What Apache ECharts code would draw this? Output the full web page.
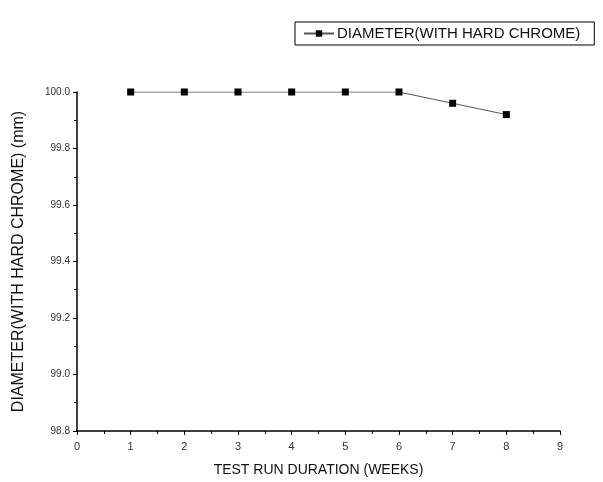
<!DOCTYPE html>
<html>
<head>
<meta charset="utf-8">
<script src="https://cdn.jsdelivr.net/npm/echarts@6/dist/echarts.min.js"></script>
<style>
  html, body { margin: 0; padding: 0; background: #fff; }
  #chart { width: 603px; height: 482px; }
</style>
</head>
<body>
<div id="chart"></div>
<script>
// 数据
const weeks = [1, 2, 3, 4, 5, 6, 7, 8]
const diameter = [100.0, 100.0, 100.0, 100.0, 100.0, 100.0, 99.96, 99.92]
const seriesName = 'DIAMETER(WITH HARD CHROME)'

const chart = echarts.init(document.getElementById('chart'))
chart.setOption({
  animation: false,
  textStyle: { fontFamily: 'Liberation Sans, Arial, sans-serif' },
  // 图例
  legend: {
    data: [seriesName],
    left: 295,
    top: 22,
    itemWidth: 30,
    itemHeight: 8,
    itemGap: 4,
    padding: [4, 14, 4, 8],
    borderColor: '#000',
    borderWidth: 1,
    textStyle: { fontSize: 15, color: '#111', padding: [0, 0, 0, -2] }
  },
  grid: { left: 77, right: 43, top: 92, bottom: 50 },
  xAxis: {
    type: 'value',
    min: 0,
    max: 9,
    interval: 1,
    name: 'TEST RUN DURATION (WEEKS)',
    nameLocation: 'middle',
    nameGap: 32,
    nameTextStyle: { fontSize: 14, color: '#111' },
    axisLine: { lineStyle: { color: '#000', width: 1.5 } },
    axisTick: { show: true, length: 4, lineStyle: { color: '#000' } },
    minorTick: { show: true, splitNumber: 2, length: 3, lineStyle: { color: '#000' } },
    axisLabel: { fontSize: 11, color: '#333', margin: 10 },
    splitLine: { show: false }
  },
  yAxis: {
    type: 'value',
    min: 98.8,
    max: 100.0,
    interval: 0.2,
    name: 'DIAMETER(WITH HARD CHROME) (mm)',
    nameLocation: 'middle',
    nameGap: 50,
    nameTextStyle: { fontSize: 16, color: '#111' },
    axisLine: { show: true, lineStyle: { color: '#000', width: 1.5 } },
    axisTick: { show: true, length: 4, lineStyle: { color: '#000' } },
    minorTick: { show: true, splitNumber: 2, length: 3, lineStyle: { color: '#000' } },
    axisLabel: {
      fontSize: 10,
      color: '#333',
      margin: 7,
      formatter: v => v.toFixed(1)
    },
    splitLine: { show: false }
  },
  series: [
    {
      name: seriesName,
      type: 'line',
      data: weeks.map((w, i) => [w, diameter[i]]),
      symbol: 'rect',
      symbolSize: 7,
      itemStyle: { color: '#000' },
      lineStyle: { color: '#555', width: 1 }
    }
  ]
})
</script>
</body>
</html>
